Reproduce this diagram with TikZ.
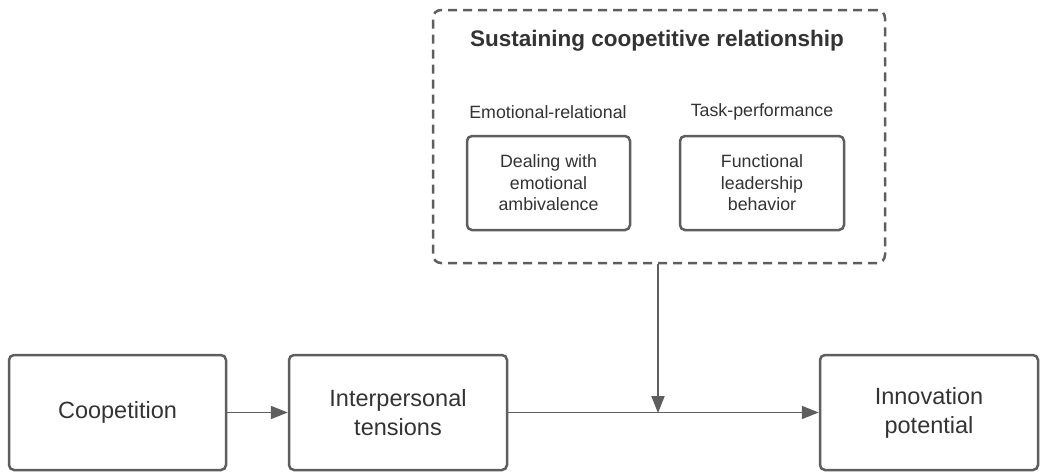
\documentclass[tikz,border=0pt]{standalone}
\usepackage{fontspec}
\setmainfont{Liberation Sans}
\usetikzlibrary{arrows.meta}
\definecolor{ln}{HTML}{5E5E5E}
\definecolor{tx}{HTML}{333333}
\begin{document}
\begin{tikzpicture}[x=1pt,y=-1pt,
  bigbox/.style={draw=ln,line width=2.5pt,rounded corners=5pt,text=tx,align=center,font=\fontsize{23.5}{29}\selectfont},
  smallbox/.style={draw=ln,line width=2.5pt,rounded corners=5pt,text=tx,align=center,font=\fontsize{17.8}{21.5}\selectfont},
  conn/.style={draw=ln,line width=1.9pt,-{Triangle[length=17pt,width=13pt]}},
  lbl/.style={text=tx,font=\fontsize{17.8}{21}\selectfont}]
\useasboundingbox (0,0) rectangle (1044,472);
\node[bigbox,minimum width=217pt,minimum height=115pt] (coop) at (117.5,412.5) {Coopetition};
\node[bigbox,minimum width=218pt,minimum height=115pt] (tens) at (398,412.5) {Interpersonal\\tensions};
\node[bigbox,minimum width=218pt,minimum height=115pt] (innov) at (929,412.5) {Innovation\\potential};
\node[draw=ln,line width=2.5pt,dashed,dash pattern=on 9pt off 6pt,rounded corners=8pt,minimum width=452pt,minimum height=253pt] (sus) at (659,136.5) {};
\node[text=tx,font=\bfseries\fontsize{22.5}{26}\selectfont] (title) at (657,41) {Sustaining coopetitive relationship};
\node[lbl] (er) at (548,112) {Emotional-relational};
\node[lbl] (tp) at (762,112) {Task-performance};
\node[smallbox,minimum width=163pt,minimum height=94pt] (deal) at (548.5,183) {Dealing with\\emotional\\ambivalence};
\node[smallbox,minimum width=164pt,minimum height=94pt] (func) at (762,183) {Functional\\leadership\\behavior};
\coordinate (mid) at (658,413);
\draw[conn] (coop.east) -- (tens.west);
\draw[conn] (tens.east) -- (innov.west);
\draw[conn] (sus.south -| mid) -- (mid);
\end{tikzpicture}
\end{document}
